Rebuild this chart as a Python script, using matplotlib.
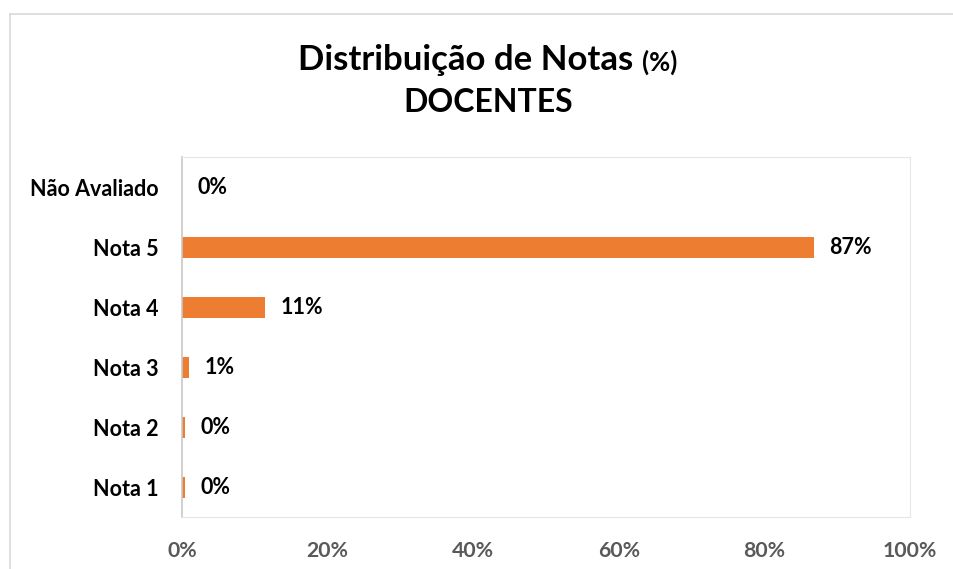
import matplotlib
matplotlib.use('Agg')
import matplotlib.pyplot as plt
from matplotlib.lines import Line2D

plt.rcParams['font.family'] = ['Lato', 'DejaVu Sans']
plt.rcParams['font.weight'] = 'bold'

# data
categorias = ['Nota 1', 'Nota 2', 'Nota 3', 'Nota 4', 'Nota 5', 'Não Avaliado']
valores = [0.4, 0.4, 1.0, 11.4, 86.8, 0.0]
rotulos = ['0%', '0%', '1%', '11%', '87%', '0%']
xticks = [0, 20, 40, 60, 80, 100]
xtick_labels = ['0%', '20%', '40%', '60%', '80%', '100%']

laranja = '#ED7D31'

fig = plt.figure(figsize=(9.54, 5.69), dpi=100)
ax = fig.add_axes([182/954, 1-517/569, (910-182)/954, (517-157)/569])

ax.barh(range(len(categorias)), valores, height=0.35, color=laranja)
ax.set_xlim(0, 100)
ax.set_ylim(-0.5, len(categorias)-0.5)
ax.set_yticks(range(len(categorias)))
ax.set_yticklabels(categorias, fontsize=15.5, fontweight='bold', color='black')
ax.set_xticks(xticks)
ax.set_xticklabels(xtick_labels, fontsize=15.3, fontweight='bold', color='#595959')
ax.tick_params(axis='both', length=0)
ax.tick_params(axis='y', pad=17)
ax.tick_params(axis='x', pad=17)

for sp in ax.spines.values():
    sp.set_color('#e6e6e6')
ax.spines['left'].set_color('#c8c8c8')
ax.spines['left'].set_linewidth(1.2)

for i, (v, r) in enumerate(zip(valores, rotulos)):
    ax.annotate(r, xy=(v, i), xytext=(11, 0), textcoords='offset points',
                va='center', ha='left', fontsize=15.5, fontweight='bold', color='black')

# title with smaller (%)
cx = 488/954
t1 = fig.text(0, 1-60/569, 'Distribuição de Notas ', fontsize=25, fontweight='bold', va='center', ha='left')
t2 = fig.text(0, 1-62/569, '(%)', fontsize=18.5, fontweight='bold', va='center', ha='left')
fig.canvas.draw()
r = fig.canvas.get_renderer()
w1 = t1.get_window_extent(r).width / fig.bbox.width
w2 = t2.get_window_extent(r).width / fig.bbox.width
x0 = cx - (w1 + w2) / 2
t1.set_x(x0)
t2.set_x(x0 + w1)
fig.text(cx, 1-103/569, 'DOCENTES', fontsize=23, fontweight='bold', va='center', ha='center')

# outer chart border (left and top visible)
fig.add_artist(Line2D([10/954, 10/954], [0, 1-14/569], color='#d9d9d9', lw=1.2))
fig.add_artist(Line2D([10/954, 1], [1-14/569, 1-14/569], color='#d9d9d9', lw=1.2))

fig.savefig('out.png', dpi=100)
